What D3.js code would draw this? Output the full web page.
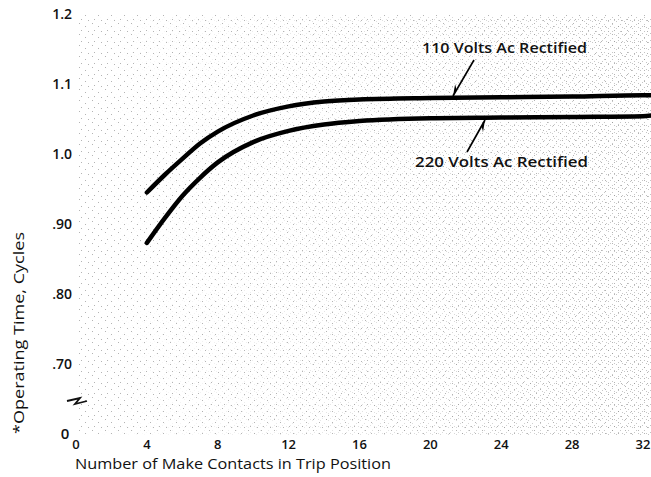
<!DOCTYPE html>
<html>
<head>
<meta charset="utf-8">
<script src="https://cdn.jsdelivr.net/npm/d3@7"></script>
<style>
  body { margin: 0; background: #fff; }
  text { font-family: "Open Sans", "DejaVu Sans", sans-serif; fill: #111; font-weight: 600; }
  .title { font-weight: 400; }
</style>
</head>
<body>
<svg id="chart"></svg>
<script>
var width = 651,
    height = 477;

// contacts in trip position
var contacts = [4, 5, 6, 7, 8, 10, 12, 14, 16, 20, 24, 28, 32, 32.5];
var volts110 = [0.945, 0.97, 0.993, 1.015, 1.032, 1.055, 1.068, 1.075, 1.078, 1.080, 1.081, 1.082, 1.084, 1.084];
var volts220 = [0.873, 0.908, 0.94, 0.966, 0.988, 1.017, 1.033, 1.042, 1.047, 1.051, 1.052, 1.053, 1.054, 1.055];

var xTicks = [0, 4, 8, 12, 16, 20, 24, 28, 32];
var yTicks = [0.70, 0.80, 0.90, 1.0, 1.1, 1.2];
var yTickLabels = [".70", ".80", ".90", "1.0", "1.1", "1.2"];

var svg = d3.select("#chart").attr("width", width).attr("height", height);

var x = d3.scaleLinear().domain([0, 32]).range([76, 643]);
// axis is broken below .70, the "0" sits where .60 would be
var y = d3.scaleLinear().domain([0.6, 1.2]).range([434, 14]);

// stippled paper background, sparse on the left and denser to the right
var defs = svg.append("defs");
var pat = defs.append("pattern").attr("id", "dots")
    .attr("width", 13).attr("height", 11).attr("patternUnits", "userSpaceOnUse");
[[1, 1], [7, 4], [3, 8], [10, 9]].forEach(function(p) {
  pat.append("rect").attr("x", p[0]).attr("y", p[1]).attr("width", 1).attr("height", 1).attr("fill", "#777");
});
var pat2 = defs.append("pattern").attr("id", "dots2")
    .attr("width", 8).attr("height", 7).attr("patternUnits", "userSpaceOnUse");
[[0, 0], [4, 3], [2, 5], [6, 6]].forEach(function(p) {
  pat2.append("rect").attr("x", p[0]).attr("y", p[1]).attr("width", 1).attr("height", 1).attr("fill", "#888");
});
var grad = defs.append("linearGradient").attr("id", "fade");
grad.append("stop").attr("offset", "0%").attr("stop-color", "#fff").attr("stop-opacity", 0);
grad.append("stop").attr("offset", "100%").attr("stop-color", "#fff").attr("stop-opacity", 1);
defs.append("mask").attr("id", "fadeMask")
  .append("rect").attr("x", 78).attr("y", 15).attr("width", 573).attr("height", 422).attr("fill", "url(#fade)");

svg.append("rect").attr("x", 78).attr("y", 15).attr("width", 573).attr("height", 422)
  .attr("fill", "url(#dots)").attr("opacity", 0.55);
svg.append("rect").attr("x", 78).attr("y", 15).attr("width", 573).attr("height", 422)
  .attr("fill", "url(#dots2)").attr("opacity", 0.5).attr("mask", "url(#fadeMask)");

// y tick labels
svg.append("g").selectAll("text")
  .data(yTicks)
  .enter().append("text")
  .attr("x", 72)
  .attr("y", function(d) { return y(d); })
  .attr("dy", "0.35em")
  .attr("text-anchor", "end")
  .attr("font-size", 14)
  .text(function(d, i) { return yTickLabels[i]; });

svg.append("text").attr("x", 65).attr("y", y(0.6)).attr("dy", "0.35em")
  .attr("text-anchor", "middle").attr("font-size", 15).text("0");

// axis break mark
svg.append("path")
  .attr("d", "M67,401 L80,398 L75,404 L87,401")
  .attr("fill", "none").attr("stroke", "#111").attr("stroke-width", 1.8);

// x tick labels
svg.append("g").selectAll("text")
  .data(xTicks)
  .enter().append("text")
  .attr("x", function(d) { return x(d); })
  .attr("y", 449)
  .attr("text-anchor", "middle")
  .attr("font-size", 13)
  .text(function(d) { return d; });

// axis titles
svg.append("text").attr("class", "title").attr("x", 75).attr("y", 469).attr("font-size", 14)
  .attr("textLength", 316).attr("lengthAdjust", "spacingAndGlyphs")
  .text("Number of Make Contacts in Trip Position");

svg.append("text").attr("class", "title")
  .attr("transform", "translate(24,333) rotate(-90)")
  .attr("text-anchor", "middle").attr("font-size", 15)
  .attr("textLength", 202).attr("lengthAdjust", "spacingAndGlyphs")
  .text("*Operating Time, Cycles");

// curves
var line = d3.line().curve(d3.curveMonotoneX)
  .x(function(d) { return x(d[0]); })
  .y(function(d) { return y(d[1]); });

[volts110, volts220].forEach(function(series) {
  svg.append("path")
    .datum(contacts.map(function(c, i) { return [c, series[i]]; }))
    .attr("d", line)
    .attr("fill", "none")
    .attr("stroke", "#000")
    .attr("stroke-width", 4.5)
    .attr("stroke-linecap", "round");
});

// annotations
svg.append("text").attr("x", 422).attr("y", 53).attr("font-size", 15).attr("font-weight", "bold")
  .attr("textLength", 165).attr("lengthAdjust", "spacingAndGlyphs")
  .text("110 Volts Ac Rectified");
svg.append("text").attr("x", 415).attr("y", 167).attr("font-size", 15).attr("font-weight", "bold")
  .attr("textLength", 173).attr("lengthAdjust", "spacingAndGlyphs")
  .text("220 Volts Ac Rectified");

function pointer(x1, y1, x2, y2) {
  svg.append("line").attr("x1", x1).attr("y1", y1).attr("x2", x2).attr("y2", y2)
    .attr("stroke", "#000").attr("stroke-width", 1.6);
  var a = Math.atan2(y2 - y1, x2 - x1), len = 12;
  var p1 = [x2 - len * Math.cos(a - 0.35), y2 - len * Math.sin(a - 0.35)];
  var p2 = [x2 - len * 0.6 * Math.cos(a), y2 - len * 0.6 * Math.sin(a)];
  svg.append("path").attr("d", "M" + x2 + "," + y2 + "L" + p1 + "L" + p2 + "Z").attr("fill", "#000");
}
pointer(474, 60, 453, 96);
pointer(467, 152, 485, 120);
</script>
</body>
</html>
